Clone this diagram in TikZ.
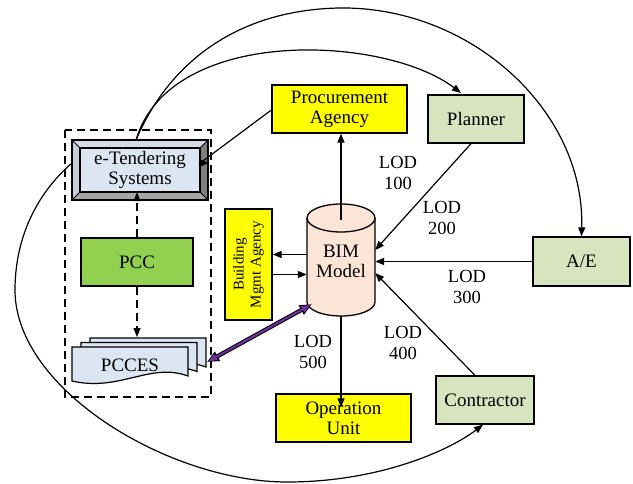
\documentclass[tikz,border=0pt]{standalone}
\usepackage{fontspec}
\setmainfont{Liberation Serif}
\usetikzlibrary{arrows.meta}
\definecolor{yel}{HTML}{FFFF00}
\definecolor{oliv}{HTML}{D7E4BD}
\definecolor{pccg}{HTML}{92D050}
\definecolor{lblue}{HTML}{DCE6F2}
\definecolor{peach}{HTML}{FCE4D6}
\definecolor{purp}{HTML}{7030A0}
\definecolor{bvtop}{HTML}{D3DBE6}
\definecolor{bvleft}{HTML}{C4CEDB}
\definecolor{bvright}{HTML}{7F7F7F}
\definecolor{bvbot}{HTML}{A6A6A6}
\begin{document}
\begin{tikzpicture}[x=1pt,y=-1pt,
  box/.style={draw=black, line width=1.3pt, align=center, inner sep=0pt, font=\fontsize{19}{20}\selectfont},
  txt/.style={align=center, inner sep=0pt, font=\fontsize{19}{20}\selectfont},
  lod/.style={align=center, inner sep=0pt, font=\fontsize{18.5}{20.5}\selectfont},
  arr/.style={line width=1.2pt, -{Triangle[length=9pt,width=7pt]}},
  dasharr/.style={line width=1.2pt, dash pattern=on 8pt off 5pt, -{Triangle[length=9pt,width=7pt]}},
  frame/.style={line width=1.3pt, dash pattern=on 8pt off 5pt},
  doc/.style={draw=black, line width=1.2pt, fill=lblue}]
\useasboundingbox (0,0) rectangle (633,483);

% dashed group frame
\draw[frame] (65,130) rectangle (211,397);

% e-Tendering bevel box
\fill[bvtop] (72,140) -- (208,140) -- (200,148) -- (80,148) -- cycle;
\fill[bvleft] (72,140) -- (80,148) -- (80,192) -- (72,200) -- cycle;
\fill[bvright] (208,140) -- (208,200) -- (200,192) -- (200,148) -- cycle;
\fill[bvbot] (72,200) -- (80,192) -- (200,192) -- (208,200) -- cycle;
\fill[lblue] (80,148) rectangle (200,192);
\draw[line width=1.3pt] (72,140) rectangle (208,200);
\draw[line width=1.1pt] (80,148) rectangle (200,192);
\draw[line width=0.8pt] (72,140) -- (80,148) (208,140) -- (200,148) (72,200) -- (80,192) (208,200) -- (200,192);
\node[txt, minimum width=120pt, minimum height=44pt] (et) at (140,170) {e-Tendering\\Systems};

% PCC
\node[box, fill=pccg, minimum width=112pt, minimum height=48pt] (pcc) at (137,262) {PCC};

% PCCES multi-document
\begin{scope}[shift={(18,-9)}]
\draw[doc] (72,347) -- (188,347) -- (188,376) .. controls (150,362) and (120,392) .. (72,381) -- cycle;
\end{scope}
\begin{scope}[shift={(9,-4.5)}]
\draw[doc] (72,347) -- (188,347) -- (188,376) .. controls (150,362) and (120,392) .. (72,381) -- cycle;
\end{scope}
\draw[doc] (72,347) -- (188,347) -- (188,376) .. controls (150,362) and (120,392) .. (72,381) -- cycle;
\node[txt] (pcces) at (130,365) {PCCES};
\coordinate (pctop) at (139,337);
\coordinate (pcE) at (207,362);

% boxes
\node[box, fill=yel, minimum width=135pt, minimum height=48pt] (proc) at (339.5,109) {Procurement\\Agency};
\node[box, fill=oliv, minimum width=96pt, minimum height=48pt] (plan) at (476,119) {Planner};
\node[box, fill=oliv, minimum width=97pt, minimum height=49pt] (ae) at (581.5,261.5) {A/E};
\node[box, fill=oliv, minimum width=98pt, minimum height=48pt] (con) at (485,400) {Contractor};
\node[box, fill=yel, minimum width=135pt, minimum height=48pt] (op) at (343.5,418) {Operation\\Unit};
\node[box, fill=yel, rotate=90, minimum width=111pt, minimum height=47pt, font=\fontsize{15}{17}\selectfont] (bma) at (248.5,264.5) {Building\\Mgmt Agency};

% BIM cylinder
\fill[peach] (307,218) -- (307,302) arc[start angle=180, end angle=360, x radius=34, y radius=-14] -- (375,218) arc[start angle=0, end angle=180, x radius=34, y radius=-14] -- cycle;
\draw[line width=1.3pt] (307,218) -- (307,302) arc[start angle=180, end angle=360, x radius=34, y radius=-14] -- (375,218);
\draw[line width=1.3pt] (341,218) ellipse[x radius=34, y radius=14];
\node[txt, minimum width=68pt, minimum height=82pt] (bim) at (341,261) {BIM\\Model};

% connectors
\draw[arr] ([yshift=-1pt]proc.west) -- (et.east |- 0,163) -- ++(9,0);
\draw[arr] (bim.north) -- (bim.north |- proc.south);
\draw[arr] ([yshift=6.5pt]bim.west) -- ([yshift=6.5pt]bim.west -| bma.south);
\draw[arr] ([yshift=-10pt]bma.south) -- ([yshift=-10pt]bma.south -| bim.west);
\draw[arr] ([xshift=-5pt]plan.south) -- ([yshift=11pt]bim.east);
\draw[arr] (ae.west) -- (ae.west -| bim.east);
\draw[arr] ([xshift=-10pt]con.north) -- ([yshift=-12pt]bim.east);
\draw[arr] ([yshift=-14pt]bim.south) -- ([yshift=-14pt]bim.south |- op.north);
\draw[dasharr] (pcc.north) -- (pcc.north |- et.south);
\draw[dasharr] (pcc.south) -- (pcc.south |- pctop);

% purple double arrow
\draw[line width=4.2pt, {Triangle[length=12pt,width=10pt]}-{Triangle[length=12pt,width=10pt]}] (pcE) -- ([xshift=5pt,yshift=-2pt]bim.south west);
\draw[line width=2pt, purp, shorten >=1.5pt, shorten <=1.5pt, {Triangle[length=9pt,width=6.5pt]}-{Triangle[length=9pt,width=6.5pt]}] (pcE) -- ([xshift=5pt,yshift=-2pt]bim.south west);

% curves
\coordinate (etTop) at (136,140);
\draw[arr] (etTop) .. controls (170,25) and (385,35) .. (461,93);
\draw[arr] (etTop) .. controls (170,60) and (240,10) .. (339,8) .. controls (470,6) and (585,110) .. (ae.north);
\draw[arr] (72,163) .. controls (35,195) and (15,240) .. (15,290) .. controls (15,390) and (170,482) .. (287,482) .. controls (380,482) and (450,450) .. ([xshift=-2pt]con.south);

% LOD labels
\node[lod] (l100) at (398,173) {LOD\\100};
\node[lod] (l200) at (442,218) {LOD\\200};
\node[lod] (l300) at (467,287) {LOD\\300};
\node[lod] (l400) at (403,343) {LOD\\400};
\node[lod] (l500) at (313,352) {LOD\\500};
\end{tikzpicture}
\end{document}
